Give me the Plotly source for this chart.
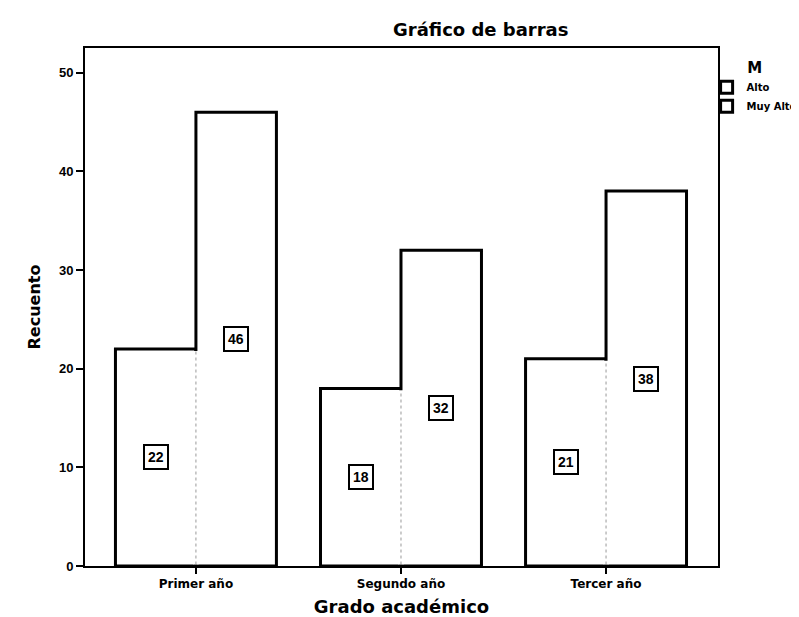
import plotly.graph_objects as go

categories = ["Primer año", "Segundo año", "Tercer año"]
series_names = ["Alto", "Muy Alto"]
alto = [22, 18, 21]
muy_alto = [46, 32, 38]
y_ticks = [0, 10, 20, 30, 40, 50]

FONT = "Liberation Sans, Arial, sans-serif"
WIDE = "DejaVu Sans, Verdana, sans-serif"
W, H = 799, 617
L, R, T, B = 77, 89, 40, 59

bargap = 0.215
bar_w = (1 - bargap) / 2
xs = list(range(len(categories)))

fig = go.Figure()
for name, vals in zip(series_names, [alto, muy_alto]):
    fig.add_trace(go.Bar(
        x=xs, y=vals, name=name,
        marker=dict(color="white", line=dict(color="black", width=3)),
        hoverinfo="skip",
    ))

# shared divider below the lower bar is dotted in the reference
for i, (a, b) in enumerate(zip(alto, muy_alto)):
    lo = min(a, b)
    fig.add_trace(go.Scatter(x=[i, i], y=[0.15, lo - 0.2], mode="lines",
                             line=dict(color="white", width=5),
                             showlegend=False, hoverinfo="skip"))
    fig.add_trace(go.Scatter(x=[i, i], y=[0.15, lo - 0.2], mode="lines",
                             line=dict(color="#999999", width=1, dash="dot"),
                             showlegend=False, hoverinfo="skip"))

annotations = []
for i, (a, b) in enumerate(zip(alto, muy_alto)):
    for off, v in ((-bar_w / 2, a), (bar_w / 2, b)):
        annotations.append(dict(
            x=i + off, y=v / 2, xref="x", yref="y", text=f"<b>{v}</b>",
            showarrow=False, font=dict(family=FONT, size=14, color="black"),
            bgcolor="white", bordercolor="black", borderwidth=2, borderpad=3,
        ))

annotations.append(dict(
    x=(472 - L) / (W - L - R), y=1, xref="paper", yref="paper", yshift=19,
    text="<b>Gráfico de barras</b>", showarrow=False,
    font=dict(family=WIDE, size=18, color="black"),
    xanchor="center", yanchor="middle",
))

fig.update_layout(
    width=W, height=H,
    margin=dict(l=L, r=R, t=T, b=B, autoexpand=False),
    paper_bgcolor="white", plot_bgcolor="white",
    barmode="group", bargap=bargap, bargroupgap=0,
    font=dict(family=FONT, color="black"),
    annotations=annotations,
    showlegend=True,
    legend=dict(
        title=dict(text="<b>M</b>", side="top center", font=dict(family=WIDE, size=15)),
        x=0.982, y=0.99, xanchor="left", yanchor="top",
        font=dict(family=WIDE, size=10, color="black", weight="bold"),
        bgcolor="rgba(0,0,0,0)", itemwidth=30, tracegroupgap=0,
    ),
    xaxis=dict(
        range=[-0.541, 2.546], tickmode="array", tickvals=xs,
        ticktext=[f"<b>{c}</b>" for c in categories],
        tickfont=dict(family=WIDE, size=12, color="black"),
        ticks="outside", ticklen=6, tickwidth=2, tickcolor="black",
        showline=True, linecolor="black", linewidth=2, mirror=True,
        showgrid=False, zeroline=False, fixedrange=True, automargin=False,
        title=dict(text="<b>Grado académico</b>", font=dict(family=WIDE, size=18), standoff=10),
    ),
    yaxis=dict(
        range=[0, 52.5], tickmode="array", tickvals=y_ticks,
        ticktext=[f"<b>{t}</b>" for t in y_ticks],
        tickfont=dict(family=FONT, size=13, color="black"),
        ticks="outside", ticklen=7, tickwidth=2, tickcolor="black",
        showline=True, linecolor="black", linewidth=2, mirror=True,
        showgrid=False, zeroline=False, fixedrange=True, automargin=False,
        title=dict(text="<b>Recuento</b>", font=dict(family=WIDE, size=16), standoff=14),
    ),
)

fig.write_html("out.html")
